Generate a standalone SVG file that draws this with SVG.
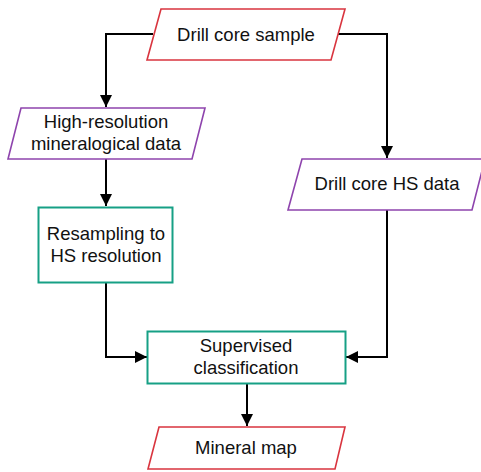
<svg xmlns="http://www.w3.org/2000/svg" width="481" height="472" viewBox="0 0 481 472">
  <style>
    text { font-family: "Liberation Sans", Arial, sans-serif; font-size: 18.5px; fill: #111111; text-anchor: middle; dominant-baseline: central; }
    .io-red { fill: #ffffff; stroke: #d9353f; stroke-width: 1.6; }
    .io-purple { fill: #ffffff; stroke: #8e44ad; stroke-width: 1.6; }
    .proc { fill: #ffffff; stroke: #16a085; stroke-width: 2; }
    .edge { fill: none; stroke: #000000; stroke-width: 2; marker-end: url(#arrow); }
  </style>
  <defs>
    <marker id="arrow" viewBox="0 0 10 10" refX="10" refY="5" markerWidth="6.5" markerHeight="6" markerUnits="strokeWidth" orient="auto">
      <path d="M0,0 L10,5 L0,10 Z" fill="#000000"/>
    </marker>
  </defs>
  <rect width="481" height="472" fill="#ffffff"/>

  <g id="connectors">
    <polyline class="edge" points="153,34 106,34 106,107"/>
    <polyline class="edge" points="338,34 387,34 387,158"/>
    <polyline class="edge" points="106,159 106,206"/>
    <polyline class="edge" points="106,283 106,357 147,357"/>
    <polyline class="edge" points="387,210 387,357 346,357"/>
    <polyline class="edge" points="247,383 247,426"/>
  </g>

  <g id="drill-core-sample">
    <polygon class="io-red" points="161,9 345,9 331,60 147,60"/>
    <text x="246" y="34">Drill core sample</text>
  </g>

  <g id="high-res-data">
    <polygon class="io-purple" points="21,108 205,108 192,159 8,159"/>
    <text x="106" y="121">High-resolution</text>
    <text x="106" y="143">mineralogical data</text>
  </g>

  <g id="drill-core-hs-data">
    <polygon class="io-purple" points="302,159 485,159 472,210 288,210"/>
    <text x="387" y="183">Drill core HS data</text>
  </g>

  <g id="resampling">
    <rect class="proc" x="38.5" y="207.5" width="134" height="75"/>
    <text x="106" y="233">Resampling to</text>
    <text x="106" y="255">HS resolution</text>
  </g>

  <g id="supervised-classification">
    <rect class="proc" x="147.5" y="331.5" width="198" height="52"/>
    <text x="246" y="345">Supervised</text>
    <text x="246" y="367">classification</text>
  </g>

  <g id="mineral-map">
    <polygon class="io-red" points="159,427 345,427 335,469 148,469"/>
    <text x="246" y="447">Mineral map</text>
  </g>
</svg>
